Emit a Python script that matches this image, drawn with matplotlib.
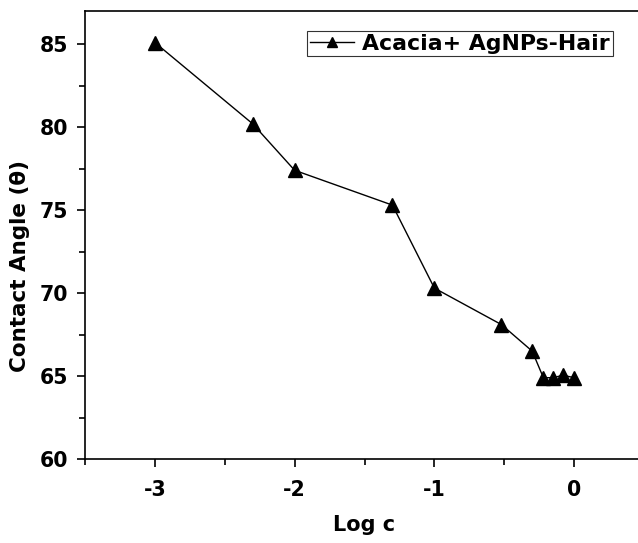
import matplotlib
matplotlib.use("Agg")
from matplotlib import pyplot as plt
from matplotlib.ticker import MultipleLocator

log_c = [-3, -2.3, -2, -1.3, -1, -0.52, -0.3, -0.22, -0.15, -0.08, 0]
angle = [85.1, 80.2, 77.4, 75.3, 70.3, 68.1, 66.5, 64.9, 64.9, 65.05, 64.9]

plt.rcParams['font.family'] = ['DejaVu Sans']
plt.rcParams['font.weight'] = 'bold'
plt.rcParams['axes.unicode_minus'] = False

fig = plt.figure(figsize=(6.38, 5.43), dpi=100)
ax = fig.add_axes([85 / 638, 84 / 543, 559 / 638, 448 / 543])

ax.plot(log_c, angle, color='black', linewidth=1, marker='^', markersize=9.5,
        label='Acacia+ AgNPs-Hair')

ax.set_xlim(-3.5, 0.5)
ax.set_ylim(60, 87)
ax.xaxis.set_major_locator(MultipleLocator(1))
ax.xaxis.set_minor_locator(MultipleLocator(0.5))
ax.yaxis.set_major_locator(MultipleLocator(5))
ax.yaxis.set_minor_locator(MultipleLocator(2.5))
ax.tick_params(which='major', direction='out', length=6, width=1.2, labelsize=14.8, pad=6)
ax.tick_params(axis='x', which='major', pad=9)
ax.tick_params(which='minor', direction='out', length=4, width=1.2)
ax.spines['right'].set_visible(False)
for s in ['left', 'bottom', 'top']:
    ax.spines[s].set_linewidth(1.2)

ax.set_xlabel('Log c', fontsize=15, fontweight='bold', labelpad=11)
ax.set_ylabel('Contact Angle (\u03b8)', fontsize=15.5, fontweight='bold')
ax.yaxis.set_label_coords(-0.098, 0.43)

leg = ax.legend(loc='upper left', bbox_to_anchor=(222 / 559, 0.955), fontsize=15.8,
                frameon=True, fancybox=False, edgecolor='black', handlelength=2.0,
                handletextpad=0.4, borderpad=0.12, borderaxespad=0, markerscale=0.7)
leg.get_frame().set_linewidth(0.8)
for t in leg.get_texts():
    t.set_fontweight('bold')

fig.savefig('out.png', dpi=100)
